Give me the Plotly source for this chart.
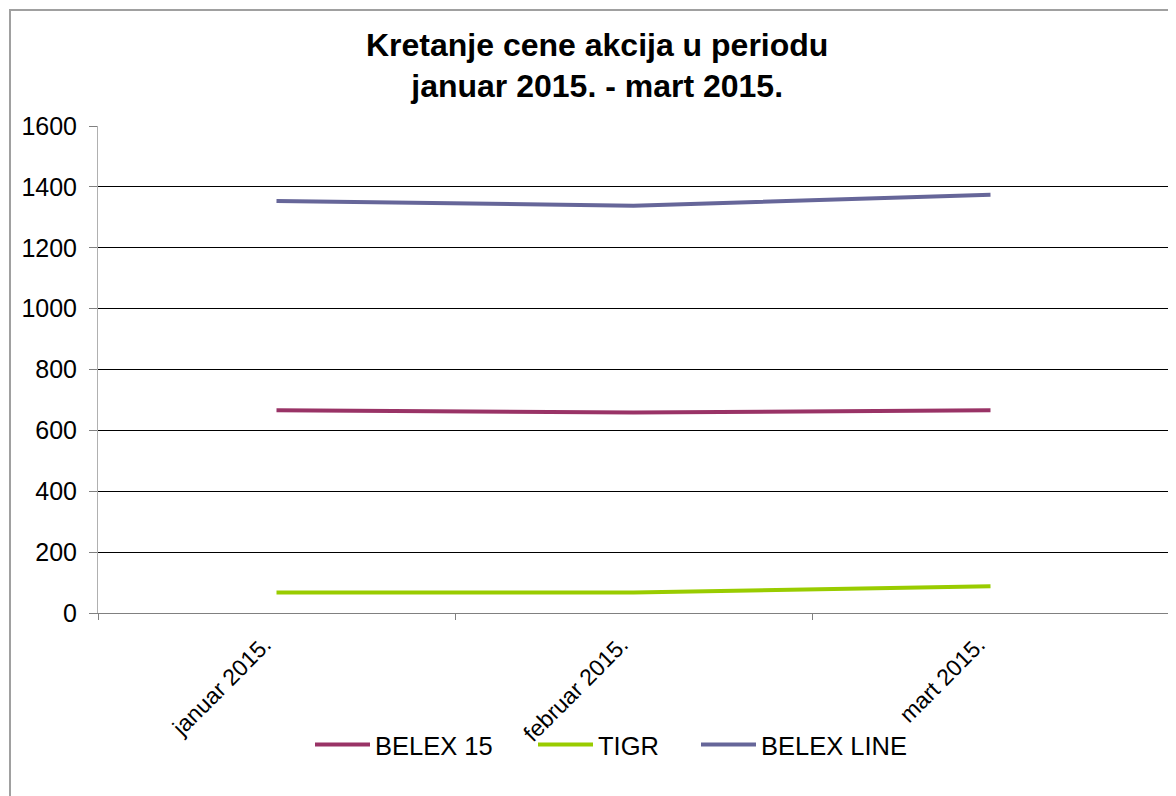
import plotly.graph_objects as go

categories = ["januar 2015.", "februar 2015.", "mart 2015."]
belex15 = [666, 659, 666]
tigr = [67, 67, 88]
belexline = [1354, 1338, 1374]
y_ticks = [0, 200, 400, 600, 800, 1000, 1200, 1400, 1600]

fig = go.Figure()
fig.add_trace(go.Scatter(x=categories, y=belex15, mode="lines", name="BELEX 15",
                         line=dict(color="#993366", width=4), legend="legend"))
fig.add_trace(go.Scatter(x=categories, y=tigr, mode="lines", name="TIGR",
                         line=dict(color="#99CC00", width=4), legend="legend2"))
fig.add_trace(go.Scatter(x=categories, y=belexline, mode="lines", name="BELEX LINE",
                         line=dict(color="#666699", width=4), legend="legend3"))

L, T, PW, PH = 90, 118, 1071, 487

def leg(left_px):
    return dict(orientation="h", x=(left_px - L) / PW, xanchor="left",
                y=-0.271, yanchor="middle", font=dict(size=25.5),
                bgcolor="rgba(0,0,0,0)", itemwidth=55)

fig.update_layout(
    width=1176, height=796,
    margin=dict(l=L, r=1176 - L - PW, t=T, b=796 - T - PH),
    paper_bgcolor="white", plot_bgcolor="white",
    font=dict(family="Liberation Sans, Arial, sans-serif", color="black"),
    title=dict(text="<b>Kretanje cene akcija u periodu<br>januar 2015. - mart 2015.</b>",
               x=0.501, xanchor="center", y=0.94, yanchor="top",
               font=dict(size=32, color="black")),
    showlegend=True,
    legend=leg(302),
    legend2=leg(525),
    legend3=leg(688),
    xaxis=dict(type="category", range=[-0.5, 2.5], tickson="boundaries",
               showline=True, linecolor="#808080", linewidth=1,
               ticks="outside", ticklen=6, tickcolor="#808080",
               showgrid=False, tickangle=-45, tickfont=dict(size=23),
               ticklabelstandoff=8, ticklabelshift=-12),
    yaxis=dict(range=[0, 1600], tickvals=y_ticks,
               showline=True, linecolor="#b0b0b0", linewidth=1,
               ticks="outside", ticklen=8, tickcolor="#808080",
               showgrid=True, gridcolor="black", gridwidth=1, zeroline=False,
               tickfont=dict(size=25), ticklabelstandoff=7),
    shapes=[dict(type="rect", xref="paper", yref="paper",
                 x0=(2 - L) / PW, x1=1.2, y0=-1, y1=(T + PH - 2) / PH,
                 line=dict(color="#a0a0a0", width=2), fillcolor="rgba(0,0,0,0)",
                 layer="below")],
)

fig.write_html("out.html")
